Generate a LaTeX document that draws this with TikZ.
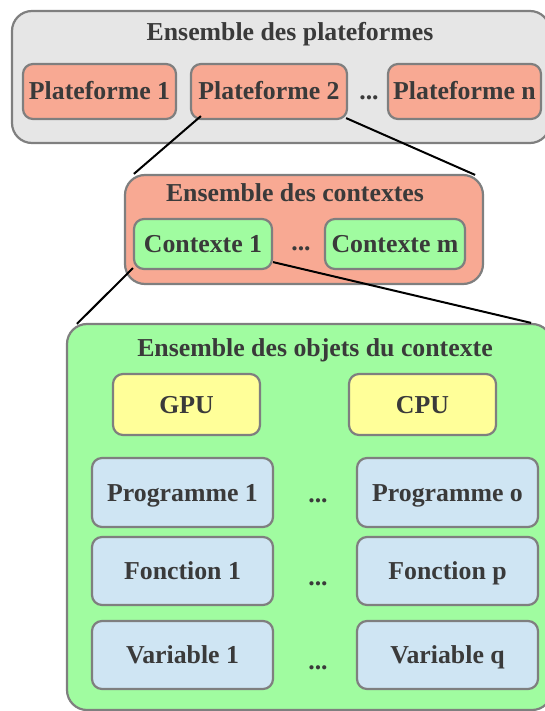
\documentclass[tikz,border=0pt]{standalone}
\usepackage{fontspec}
\setmainfont{Liberation Serif}
\usetikzlibrary{calc}
\definecolor{bgray}{HTML}{E6E6E6}
\definecolor{salmon}{HTML}{F8A993}
\definecolor{lgreen}{HTML}{A0FCA0}
\definecolor{lyellow}{HTML}{FFFF99}
\definecolor{lblue}{HTML}{CFE5F3}
\definecolor{edge}{HTML}{7F7F7F}
\definecolor{txt}{HTML}{3A3A3A}
\begin{document}
\begin{tikzpicture}[x=1pt,y=-1pt,
  every node/.style={font=\fontsize{25.8}{30}\selectfont\bfseries, text=txt, inner sep=0pt, text height=17pt, text depth=0pt},
  bigbox/.style={draw=edge, line width=2.2pt, rounded corners=20pt},
  smallbox/.style={draw=edge, line width=2.2pt, rounded corners=10pt},
  link/.style={draw=black, line width=2pt}]
\useasboundingbox (0,0) rectangle (544,711);
% outer boxes
\node[bigbox, fill=bgray, minimum width=538pt, minimum height=132pt] (plat) at (281,77) {};
\node (plattitle) at (290,32) {Ensemble des plateformes};
\node[smallbox, fill=salmon, minimum width=153pt, minimum height=55pt] (p1) at (99.5,91.5) {Plateforme 1};
\node[smallbox, fill=salmon, minimum width=156pt, minimum height=55pt] (p2) at (269,91.5) {Plateforme 2};
\node (pdots) at (369,91.5) {...};
\node[smallbox, fill=salmon, minimum width=153pt, minimum height=55pt] (pn) at (464.5,91.5) {Plateforme n};

\node[bigbox, fill=salmon, minimum width=358pt, minimum height=109pt] (ctx) at (304,229.5) {};
\node (ctxtitle) at (295,193.5) {Ensemble des contextes};
\node[smallbox, fill=lgreen, minimum width=138pt, minimum height=50pt] (c1) at (203,244) {Contexte 1};
\node (cdots) at (301,242) {...};
\node[smallbox, fill=lgreen, minimum width=140pt, minimum height=50pt] (cm) at (395,244) {Contexte m};

\node[bigbox, fill=lgreen, minimum width=485pt, minimum height=386pt] (obj) at (309.5,517) {};
\node (objtitle) at (315,348) {Ensemble des objets du contexte};
\node[smallbox, fill=lyellow, minimum width=147pt, minimum height=61pt] (gpu) at (186.5,404.5) {GPU};
\node[smallbox, fill=lyellow, minimum width=147pt, minimum height=61pt] (cpu) at (422.5,404.5) {CPU};
\node[smallbox, fill=lblue, minimum width=181pt, minimum height=69pt] (prog1) at (182.5,492.5) {Programme 1};
\node[smallbox, fill=lblue, minimum width=181pt, minimum height=69pt] (progo) at (447.5,492.5) {Programme o};
\node (dots1) at (318,493.5) {...};
\node[smallbox, fill=lblue, minimum width=181pt, minimum height=68pt] (fonc1) at (182.5,571) {Fonction 1};
\node[smallbox, fill=lblue, minimum width=181pt, minimum height=68pt] (foncp) at (447.5,571) {Fonction p};
\node (dots2) at (318,576.5) {...};
\node[smallbox, fill=lblue, minimum width=181pt, minimum height=68pt] (var1) at (182.5,655) {Variable 1};
\node[smallbox, fill=lblue, minimum width=181pt, minimum height=68pt] (varq) at (447.5,655) {Variable q};
\node (dots3) at (318,660.5) {...};

% connectors
\draw[link] ($(p2.south west)+(11,-4)$) -- ($(ctx.north west)+(10,0)$);
\draw[link] ($(p2.south east)+(-2,-2)$) -- ($(ctx.north east)+(-9,1)$);
\draw[link] ($(c1.south west)+(0,-2)$) -- ($(obj.north west)+(11,1)$);
\draw[link] ($(c1.south east)+(0,-8)$) -- ($(obj.north east)+(-22,0)$);
\end{tikzpicture}
\end{document}
